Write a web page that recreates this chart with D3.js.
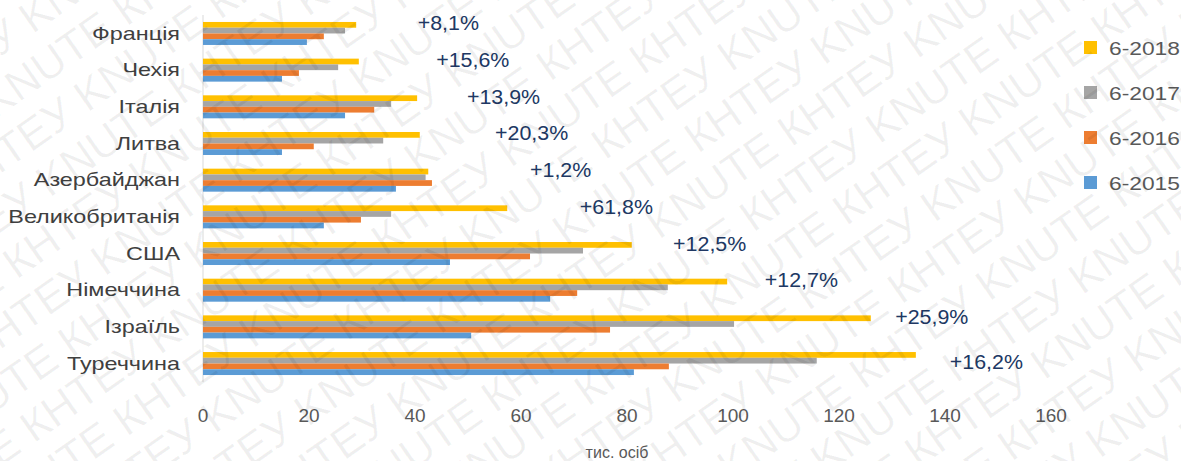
<!DOCTYPE html>
<html>
<head>
<meta charset="utf-8">
<script src="https://cdn.jsdelivr.net/npm/d3@7"></script>
<style>
  body { margin: 0; background: #fff; }
  svg { font-family: "Liberation Sans", "DejaVu Sans", sans-serif; }
</style>
</head>
<body>
<div id="chart"></div>
<script>
(() => {
  // countries, top to bottom
  var countries = ["Франція", "Чехія", "Італія", "Литва", "Азербайджан",
    "Великобританія", "США", "Німеччина", "Ізраїль", "Туреччина"];

  // series order inside each group (top to bottom)
  var seriesNames = ["6-2018", "6-2017", "6-2016", "6-2015"];
  var seriesColors = ["#FFC000", "#A5A5A5", "#ED7D31", "#5B9BD5"];

  // тис. осіб
  var v2018 = [28.9, 29.4, 40.4, 40.9, 42.5, 57.4, 80.9, 98.9, 126.0, 134.5];
  var v2017 = [26.8, 25.5, 35.5, 34.0, 42.0, 35.5, 71.7, 87.7, 100.2, 115.8];
  var v2016 = [22.8, 18.1, 32.3, 20.9, 43.2, 29.8, 61.7, 70.6, 76.8, 87.9];
  var v2015 = [19.6, 14.9, 26.8, 14.9, 36.4, 22.8, 46.6, 65.5, 50.6, 81.3];

  // growth 2018 vs 2017 and where the text box starts (in тис. осіб)
  var growth = ["+8,1%", "+15,6%", "+13,9%", "+20,3%", "+1,2%",
    "+61,8%", "+12,5%", "+12,7%", "+25,9%", "+16,2%"];
  var growthAt = [40.5, 44.0, 49.8, 55.1, 61.7, 71.1, 88.7, 106, 130.6, 140.9];

  var xTicks = [0, 20, 40, 60, 80, 100, 120, 140, 160];

  var W = 1181, H = 461;
  var series = [v2018, v2017, v2016, v2015];

  var svg = d3.select('#chart').append('svg')
    .attr('width', W).attr('height', H);

  var x = d3.scaleLinear().domain([0, 160]).range([203, 1051]);
  var y = d3.scaleBand().domain(countries).range([15, 382])
    .paddingInner(0.373).paddingOuter(0.19);
  var ys = d3.scaleBand().domain(seriesNames).range([0, y.bandwidth()]);

  // the reference text is a bit wider than our fonts, stretch it
  function place(sel, fx, fy, sx) {
    sel.attr('transform', (d, i) =>
      'translate(' + fx(d, i) + ',' + fy(d, i) + ') scale(' + sx + ',1)');
  }

  // y axis line + category labels
  svg.append('line')
    .attr('x1', x(0)).attr('x2', x(0))
    .attr('y1', 15).attr('y2', 382)
    .attr('stroke', '#d9d9d9').attr('stroke-width', 1);

  svg.selectAll('.cat')
    .data(countries)
    .enter().append('text')
    .attr('class', 'cat')
    .attr('dy', '0.35em')
    .attr('text-anchor', 'end')
    .attr('font-size', 18)
    .attr('fill', '#404040')
    .text(d => d)
    .call(place, () => 180, d => y(d) + y.bandwidth() / 2, 1.3);

  // bars
  series.forEach((vals, si) => {
    svg.append('g').selectAll('rect')
      .data(vals)
      .enter().append('rect')
      .attr('x', x(0))
      .attr('y', (d, i) => y(countries[i]) + ys(seriesNames[si]))
      .attr('width', d => x(d) - x(0))
      .attr('height', ys.bandwidth())
      .attr('fill', seriesColors[si]);
  });

  // x axis tick labels
  svg.selectAll('.xt')
    .data(xTicks)
    .enter().append('text')
    .attr('class', 'xt')
    .attr('dy', '0.35em')
    .attr('text-anchor', 'middle')
    .attr('font-size', 19)
    .attr('fill', '#595959')
    .text(d => d)
    .call(place, d => x(d), () => 415, 1.0);

  svg.append('text')
    .attr('x', 617).attr('y', 452)
    .attr('dy', '0.35em')
    .attr('text-anchor', 'middle')
    .attr('font-size', 16)
    .attr('fill', '#595959')
    .text('тис. осіб');

  // growth labels
  svg.selectAll('.gr')
    .data(growth)
    .enter().append('text')
    .attr('class', 'gr')
    .attr('dy', '0.35em')
    .attr('font-size', 20)
    .attr('fill', '#203864')
    .text(d => d)
    .call(place, (d, i) => x(growthAt[i]),
      (d, i) => y(countries[i]) + y.bandwidth() / 2 - (i == 9 ? 2 : 10), 1.07);

  // legend
  var lg = svg.append('g').selectAll('g')
    .data(seriesNames)
    .enter().append('g')
    .attr('transform', (d, i) => 'translate(1084,' + (48 + i * 45) + ')');
  lg.append('rect')
    .attr('x', 0).attr('y', -7)
    .attr('width', 13).attr('height', 13)
    .attr('fill', (d, i) => seriesColors[i]);
  lg.append('text')
    .attr('dy', '0.35em')
    .attr('font-size', 19)
    .attr('fill', '#595959')
    .text(d => d)
    .call(place, () => 25, () => 0, 1.2);

  // watermark
  var wm = svg.append('g')
    .attr('transform', 'rotate(-35 590 230)')
    .attr('pointer-events', 'none');
  d3.range(-12, 14).forEach(r => {
    wm.append('text')
      .attr('x', -700 + (r % 2) * 80)
      .attr('y', 230 + r * 48)
      .attr('font-size', 44)
      .attr('fill', '#000')
      .attr('fill-opacity', 0.06)
      .text(d3.range(14).map(() => 'KNUTE КНТЕУ').join(' '));
  });
})();
</script>
</body>
</html>
